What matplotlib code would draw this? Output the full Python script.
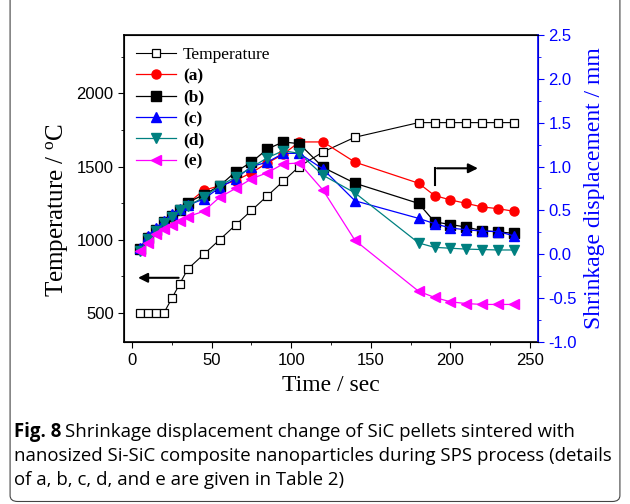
import numpy as np
import matplotlib
matplotlib.use("Agg")
import matplotlib.pyplot as plt
from matplotlib.patches import FancyBboxPatch
from matplotlib.ticker import MultipleLocator

# time points (s)
time = [5, 10, 15, 20, 25, 30, 35, 45, 55, 65, 75, 85, 95, 105, 120, 140,
        180, 190, 200, 210, 220, 230, 240]

temperature = [500, 500, 500, 500, 600, 700, 800, 900, 1000, 1100, 1200, 1300,
               1400, 1500, 1600, 1700, 1800, 1800, 1800, 1800, 1800, 1800, 1800]

# shrinkage displacement (mm)
shr_a = [0.06, 0.20, 0.27, 0.35, 0.43, 0.50, 0.58, 0.73, 0.78, 0.84, 0.93, 1.04,
         1.14, 1.28, 1.28, 1.05, 0.81, 0.67, 0.62, 0.58, 0.54, 0.52, 0.49]
shr_b = [0.06, 0.19, 0.28, 0.37, 0.44, 0.50, 0.59, 0.68, 0.78, 0.94, 1.05, 1.20,
         1.28, 1.26, 0.99, 0.81, 0.58, 0.37, 0.34, 0.31, 0.27, 0.255, 0.24]
shr_c = [0.07, 0.21, 0.30, 0.38, 0.46, 0.52, 0.56, 0.63, 0.76, 0.86, 1.00, 1.05,
         1.15, 1.15, 0.97, 0.61, 0.41, 0.35, 0.30, 0.28, 0.265, 0.26, 0.21]
shr_d = [0.04, 0.18, 0.27, 0.36, 0.43, 0.50, 0.55, 0.65, 0.78, 0.88, 0.99, 1.10,
         1.18, 1.15, 0.90, 0.70, 0.13, 0.08, 0.07, 0.06, 0.055, 0.05, 0.05]
shr_e = [0.04, 0.13, 0.23, 0.29, 0.33, 0.38, 0.43, 0.49, 0.65, 0.75, 0.86, 0.93,
         1.03, 1.04, 0.73, 0.16, -0.42, -0.49, -0.54, -0.56, -0.57, -0.57, -0.57]

serif = "Liberation Serif"
sans = "Liberation Sans"

fig = plt.figure(figsize=(6.3, 5.04), dpi=100)
ax = fig.add_axes([0.197, 0.321, 0.657, 0.610])
ax2 = ax.twinx()

# outer rounded frame
frame = FancyBboxPatch((0.016, 0.005), 0.968, 1.05, boxstyle="round,pad=0,rounding_size=0.012",
                       transform=fig.transFigure, fill=False, edgecolor="#444444", lw=0.8)
fig.patches.append(frame)

l0, = ax.plot(time, temperature, color="black", lw=0.8, marker="s", ms=5.5,
              mfc="white", mec="black", mew=0.9, label="Temperature")
series = [(shr_a, "red", "o", "(a)"), (shr_b, "black", "s", "(b)"),
          (shr_c, "blue", "^", "(c)"), (shr_d, "#008080", "v", "(d)"),
          (shr_e, "magenta", "<", "(e)")]
handles = [l0]
for vals, col, mk, lab in series:
    h, = ax2.plot(time, vals, color=col, lw=0.9, marker=mk, ms=6.5, mec=col, mfc=col, label=lab)
    handles.append(h)

ax.set_xlim(-5, 255)
ax.set_ylim(300, 2400)
ax2.set_ylim(-1.0, 2.5)

ax.xaxis.set_major_locator(MultipleLocator(50))
ax.xaxis.set_minor_locator(MultipleLocator(25))
ax.yaxis.set_major_locator(MultipleLocator(500))
ax.yaxis.set_minor_locator(MultipleLocator(250))
ax2.yaxis.set_major_locator(MultipleLocator(0.5))
ax2.yaxis.set_minor_locator(MultipleLocator(0.25))

ax.tick_params(axis="both", which="both", direction="out", top=False, labelsize=12)
ax.tick_params(which="major", length=4)
ax.tick_params(which="minor", length=2.5)
for lab in ax.get_xticklabels() + ax.get_yticklabels():
    lab.set_family(sans)

ax2.tick_params(axis="y", which="both", direction="out", colors="blue", labelsize=12)
ax2.tick_params(which="major", length=4)
ax2.tick_params(which="minor", length=2.5)
ax2.yaxis.set_major_formatter(plt.FuncFormatter(lambda v, p: f"{v:.1f}"))
for lab in ax2.get_yticklabels():
    lab.set_family(sans)
ax2.spines["right"].set_color("blue")
ax2.spines["right"].set_linewidth(1.2)
for s in ["left", "bottom", "top"]:
    ax.spines[s].set_linewidth(1.2)

ax.set_xlabel("Time / sec", family=serif, fontsize=17, labelpad=5)
ax.set_ylabel("Temperature / $\\mathregular{^{o}}$C", family=serif, fontsize=18)
ax.yaxis.set_label_coords(-0.13, 0.43)
ax2.set_ylabel("Shrinkage displacement / mm", family=serif, fontsize=17, color="blue", labelpad=5)

leg = ax.legend(handles=handles, loc="upper left", frameon=False, handlelength=2.3,
                handletextpad=0.4, prop={"family": serif, "size": 12.5}, borderaxespad=0.3,
                labelspacing=0.3, bbox_to_anchor=(0.0, 1.0))
for t in leg.get_texts()[1:]:
    t.set_fontweight("bold")

# direction arrows
ax.annotate("", xy=(2, 740), xytext=(31, 740),
            arrowprops=dict(arrowstyle="-|>", color="black", lw=1.5, mutation_scale=14))
ax2.plot([190.5, 190.5], [0.79, 0.98], color="black", lw=1.5)
ax2.annotate("", xy=(219, 0.98), xytext=(189.8, 0.98),
             arrowprops=dict(arrowstyle="-|>", color="black", lw=1.5, mutation_scale=14))

# caption
cap_font = "Open Sans"
fs = 13.45
y0 = 0.133
fig.canvas.draw()
r = fig.canvas.get_renderer()
t1 = fig.text(0.022, y0, "Fig. 8", family=cap_font, fontweight="bold", fontsize=fs, va="baseline")
bb = t1.get_window_extent(renderer=r)
x_after = (bb.x1 + 4) / fig.bbox.width
fig.text(x_after, y0, "Shrinkage displacement change of SiC pellets sintered with",
         family=cap_font, fontsize=fs, va="baseline")
fig.text(0.022, y0 - 0.0476, "nanosized Si-SiC composite nanoparticles during SPS process (details",
         family=cap_font, fontsize=fs, va="baseline")
fig.text(0.022, y0 - 0.0952, "of a, b, c, d, and e are given in Table 2)",
         family=cap_font, fontsize=fs, va="baseline")

fig.savefig("out.png", dpi=100)
